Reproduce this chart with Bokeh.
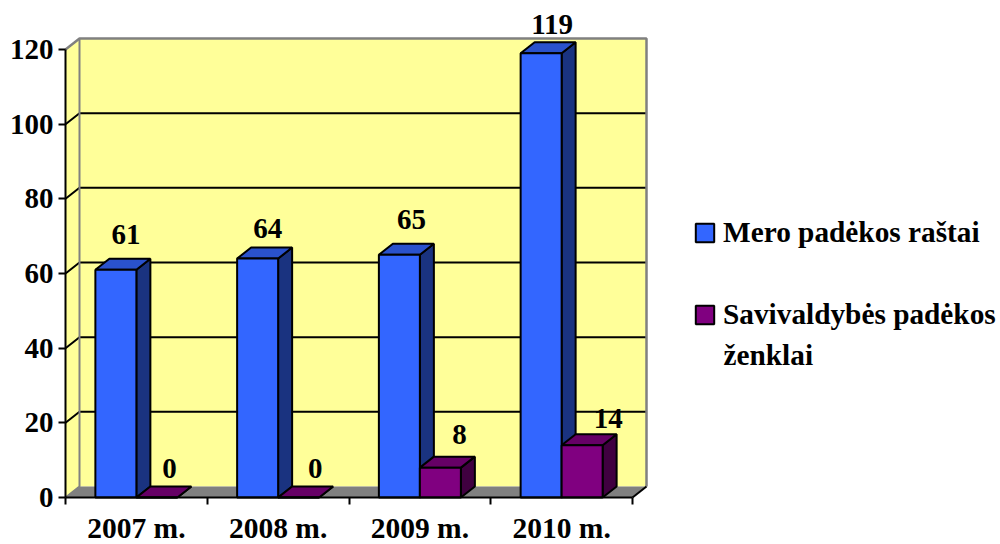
from bokeh.plotting import figure
from bokeh.embed import file_html
from bokeh.resources import INLINE
from bokeh.models import Range1d, LinearAxis, FixedTicker, Legend, LegendItem
from bokeh.core.properties import value

categories = ["2007 m.", "2008 m.", "2009 m.", "2010 m."]
mero = [61, 64, 65, 119]
savivaldybes = [0, 0, 8, 14]
y_ticks = [0, 20, 40, 60, 80, 100, 120]
series_names = ["Mero padėkos raštai", "Savivaldybės padėkos"]
series_name_line2 = "ženklai"
mero_dx = [10, 10, 12, 11]
mero_dy = [-35, -30, -35, -29]
sav_dx = [12.5, 16.5, 19, 26]
sav_dy = [-29, -29, -33, -27]

FONT = "Liberation Serif"
PX_X = 141.75
PX_Y = 448 / 120
DX = 14 / PX_X
DY = 11 / PX_Y
BW = 41 / PX_X
W, H = 1000, 544
L, B = 65, 47

p = figure(width=W, height=H, output_backend="svg", toolbar_location=None,
           x_range=Range1d(-L / PX_X, (W - L) / PX_X), y_range=Range1d(-B / PX_Y, (H - B) / PX_Y),
           min_border_left=0, min_border_right=0, min_border_top=0, min_border_bottom=0,
           x_axis_type=None, y_axis_type=None, outline_line_color=None,
           background_fill_color="white", border_fill_color="white")
p.grid.visible = False

n = len(categories)
top = y_ticks[-1]
YEL, GR = "#FFFF99", "#808080"

p.patch([DX, n + DX, n + DX, DX], [DY, DY, top + DY, top + DY], fill_color=YEL, line_color=None)
p.patch([0, DX, DX, 0], [0, DY, top + DY, top], fill_color=YEL, line_color=None)
p.patch([0, DX, n + DX, n], [0, DY, DY, 0], fill_color=GR, line_color=None)
for v in y_ticks[1:-1]:
    p.line([0, DX, n + DX], [v, v + DY, v + DY], line_color="black", line_width=2)
p.line([0, DX, n + DX, n + DX], [top, top + DY, top + DY, DY], line_color=GR, line_width=2.5)
p.line([DX, DX, 0], [top + DY, DY, 0], line_color=GR, line_width=2)
p.line([n, n + DX], [0, DY], line_color="black", line_width=2)


def bar(x0, v, front, tp, side):
    x1 = x0 + BW
    p.patch([x1, x1 + DX, x1 + DX, x1], [0, DY, v + DY, v], fill_color=side, line_color="black", line_width=2)
    p.patch([x0, x0 + DX, x1 + DX, x1], [v, v + DY, v + DY, v], fill_color=tp, line_color="black", line_width=2)
    return p.quad(left=[x0], right=[x1], bottom=[0], top=[v], fill_color=front, line_color="black", line_width=2)


r_m = r_s = None
xs, ys, labels = [], [], []
for i in range(n):
    c = i + 0.5
    r_m = bar(c - BW, mero[i], "#3366FF", "#2A52CC", "#1A3380")
    xs.append(c - BW / 2); ys.append(mero[i]); labels.append(str(mero[i]))
for i in range(n):
    c = i + 0.5
    r_s = bar(c, savivaldybes[i], "#800080", "#660066", "#400040")
    xs.append(c + BW / 2); ys.append(savivaldybes[i]); labels.append(str(savivaldybes[i]))

p.text(x=xs, y=ys, text=labels, x_offset=mero_dx + sav_dx, y_offset=mero_dy + sav_dy,
       text_font=value(FONT), text_font_style="bold", text_font_size="29px",
       text_color="black", text_align="center", text_baseline="middle")

ya = LinearAxis(ticker=FixedTicker(ticks=y_ticks), bounds=(0, top), fixed_location=0)
ya.axis_line_color = "black"; ya.axis_line_width = 2
ya.major_tick_line_color = "black"; ya.major_tick_line_width = 2
ya.major_tick_in = 0; ya.major_tick_out = 7
ya.minor_tick_line_color = None
ya.major_label_standoff = 5
ya.major_label_text_font = FONT; ya.major_label_text_font_style = "bold"
ya.major_label_text_font_size = "29px"; ya.major_label_text_color = "black"
p.add_layout(ya, "left")

centers = [i + 0.5 for i in range(n)]
xa = LinearAxis(ticker=FixedTicker(ticks=centers, minor_ticks=list(range(n + 1))), bounds=(0, n), fixed_location=0)
xa.major_label_overrides = {c: t for c, t in zip(centers, categories)}
xa.axis_line_color = "black"; xa.axis_line_width = 2
xa.major_tick_line_color = None; xa.major_tick_in = 0; xa.major_tick_out = 7
xa.minor_tick_line_color = "black"; xa.minor_tick_line_width = 2
xa.minor_tick_in = 0; xa.minor_tick_out = 7
xa.major_label_standoff = 7
xa.major_label_text_font = FONT; xa.major_label_text_font_style = "bold"
xa.major_label_text_font_size = "29.5px"; xa.major_label_text_color = "black"
p.add_layout(xa, "below")

lg = Legend(items=[LegendItem(label=series_names[0], renderers=[r_m]),
                   LegendItem(label=series_names[1], renderers=[r_s])],
            location=(693, 213), orientation="vertical", padding=0, margin=0, spacing=49,
            glyph_width=23, glyph_height=23, label_standoff=7,
            background_fill_alpha=0, border_line_color=None,
            label_text_font=FONT, label_text_font_style="bold", label_text_font_size="29.3px",
            label_text_color="black")
p.add_layout(lg)

p.text(x=[(723 - L) / PX_X], y=[(497 - 354) / PX_Y], text=[series_name_line2],
       text_font=value(FONT), text_font_style="bold", text_font_size="29.3px",
       text_color="black", text_align="left", text_baseline="middle")

open("out.html", "w").write(file_html(p, INLINE))
